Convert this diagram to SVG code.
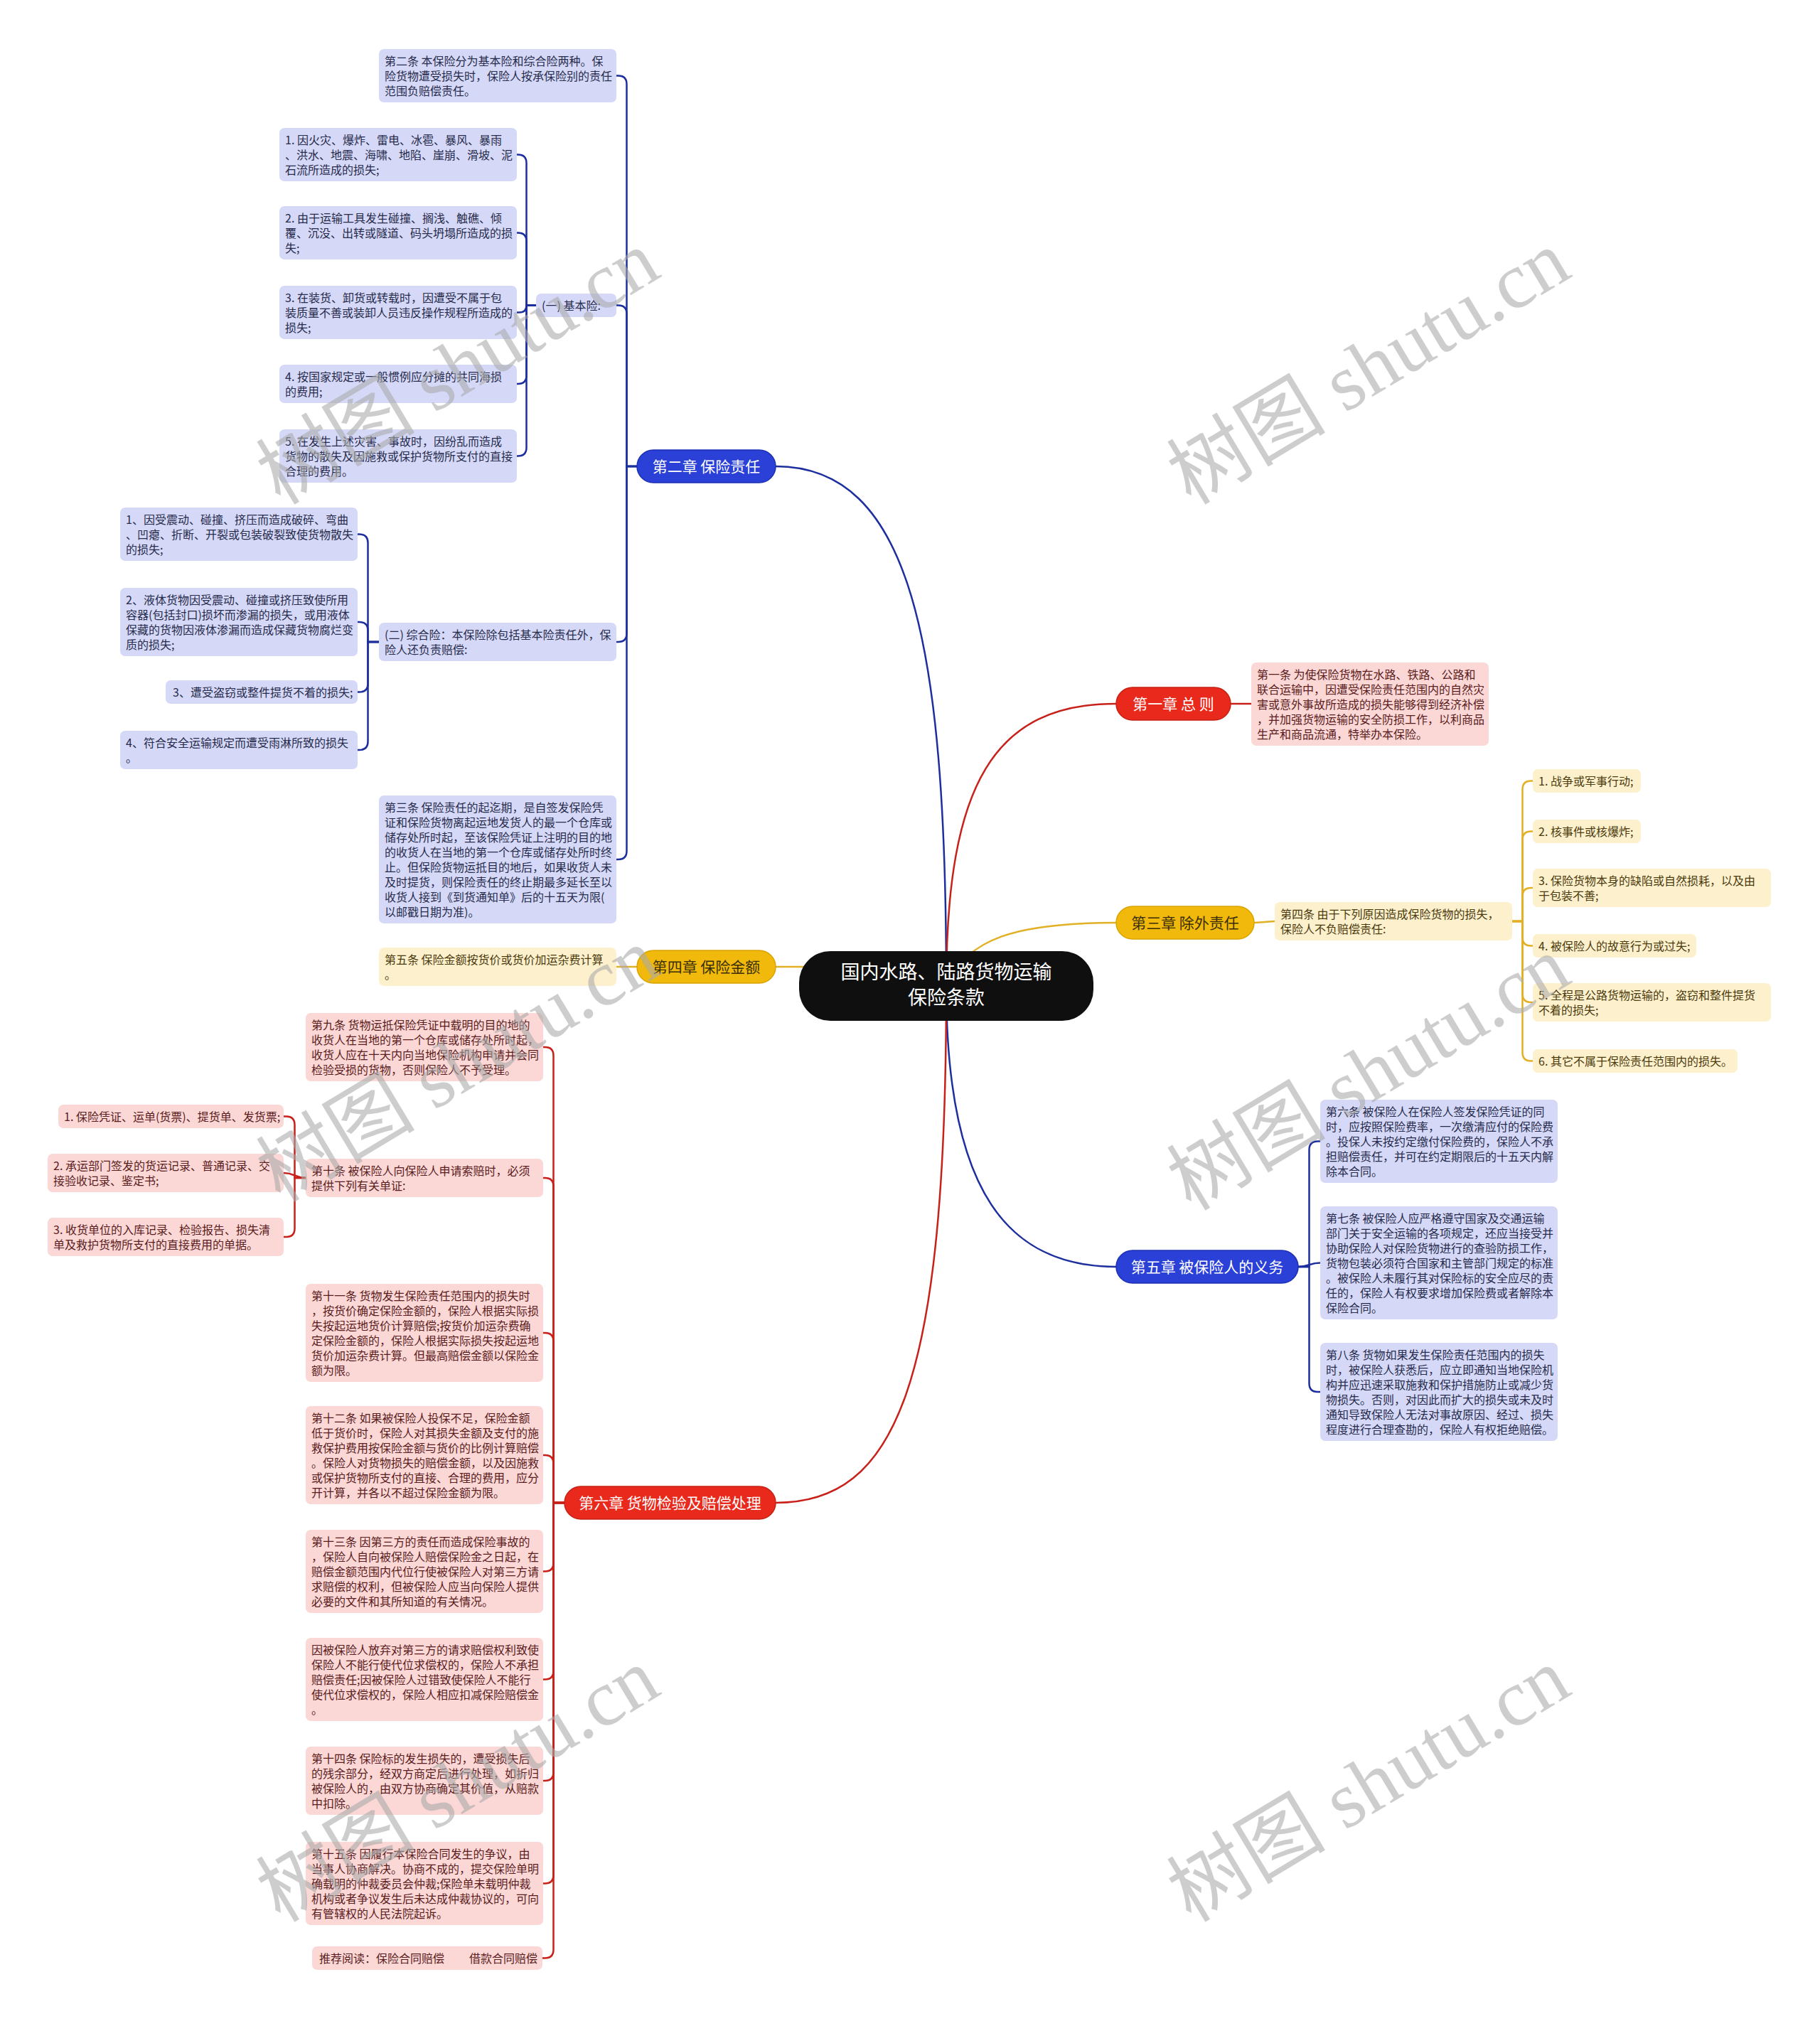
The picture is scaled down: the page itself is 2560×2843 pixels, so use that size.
<svg xmlns="http://www.w3.org/2000/svg" width="2560" height="2843" viewBox="0 0 2560 2843">
<style>
text{font-family:'Noto Sans CJK SC','Noto Sans',sans-serif;}
.t{font-size:16px;}
.lb rect{fill:#d5d9f7;} .lb text{fill:#272b4c;}
.lr rect{fill:#fbd7d6;} .lr text{fill:#5a1c1c;}
.ly rect{fill:#fdf0cd;} .ly text{fill:#4a3a0c;}
.ch text{font-size:21px;text-anchor:middle;}
.cb rect{fill:#2a40d6;stroke:#1d30b3;stroke-width:1.5;} .cb text{fill:#fff;}
.cr rect{fill:#e8291c;stroke:#c81f14;stroke-width:1.5;} .cr text{fill:#fff;}
.cy rect{fill:#f1b90c;stroke:#d9a400;stroke-width:1.5;} .cy text{fill:#3a2e08;}
.k path{fill:none;stroke-width:2.5;}
.kb{stroke:#1d2f9f;} .kr{stroke:#c7211a;} .ky{stroke:#e2b025;}
.wm{font-family:'Liberation Serif','Noto Sans CJK SC',serif;font-size:112px;fill:#a8a8a8;fill-opacity:0.58;text-anchor:middle;}
</style>
<rect width="2560" height="2843" fill="#ffffff"/>
<g id="connectors" class="k">
<path class="kb" d="M1331 1387 C1331 900 1280 656 1091 656"/>
<path class="kb" d="M1331 1387 C1331 1680 1420 1782 1570 1782"/>
<path class="kr" d="M1331 1387 C1331 1100 1400 990 1570 990"/>
<path class="kr" d="M1331 1387 C1331 1950 1260 2114 1091 2114"/>
<path class="ky" d="M1331 1387 C1360 1320 1430 1298 1570 1298"/>
<path class="ky" d="M1150 1360 L1091 1360"/>
<path class="kb" d="M896 656 H881.5 V118.5 Q881.5 106.5 869.5 106.5 H867"/>
<path class="kb" d="M896 656 H881.5 V441.5 Q881.5 429.5 869.5 429.5 H867"/>
<path class="kb" d="M896 656 H881.5 V891 Q881.5 903 869.5 903 H867"/>
<path class="kb" d="M896 656 H881.5 V1197 Q881.5 1209 869.5 1209 H867"/>
<path class="kb" d="M754 429.5 H740.5 V229.5 Q740.5 217.5 728.5 217.5 H727"/>
<path class="kb" d="M754 429.5 H740.5 V339.5 Q740.5 327.5 728.5 327.5 H727"/>
<path class="kb" d="M754 429.5 H740.5 Q740.5 439.5 730.5 439.5 H727"/>
<path class="kb" d="M754 429.5 H740.5 V528 Q740.5 540 728.5 540 H727"/>
<path class="kb" d="M754 429.5 H740.5 V629.5 Q740.5 641.5 728.5 641.5 H727"/>
<path class="kb" d="M533 903 H517.5 V763.5 Q517.5 751.5 505.5 751.5 H503"/>
<path class="kb" d="M533 903 H517.5 V887 Q517.5 875 505.5 875 H503"/>
<path class="kb" d="M533 903 H517.5 V961.5 Q517.5 973.5 505.5 973.5 H503"/>
<path class="kb" d="M533 903 H517.5 V1043 Q517.5 1055 505.5 1055 H503"/>
<path class="ky" d="M896 1360 L867 1360"/>
<path class="kr" d="M1731 990 L1760 990"/>
<path class="ky" d="M1764 1298 L1793 1296"/>
<path class="ky" d="M2127 1296 H2141.5 V1110.5 Q2141.5 1098.5 2153.5 1098.5 H2156"/>
<path class="ky" d="M2127 1296 H2141.5 V1181.5 Q2141.5 1169.5 2153.5 1169.5 H2156"/>
<path class="ky" d="M2127 1296 H2141.5 V1261 Q2141.5 1249 2153.5 1249 H2156"/>
<path class="ky" d="M2127 1296 H2141.5 V1318.5 Q2141.5 1330.5 2153.5 1330.5 H2156"/>
<path class="ky" d="M2127 1296 H2141.5 V1398 Q2141.5 1410 2153.5 1410 H2156"/>
<path class="ky" d="M2127 1296 H2141.5 V1480.5 Q2141.5 1492.5 2153.5 1492.5 H2156"/>
<path class="kb" d="M1826 1782 H1841.5 V1617.5 Q1841.5 1605.5 1853.5 1605.5 H1857"/>
<path class="kb" d="M1826 1782 C1841.5 1782 1841.5 1776.5 1857 1776.5"/>
<path class="kb" d="M1826 1782 H1841.5 V1946 Q1841.5 1958 1853.5 1958 H1857"/>
<path class="kr" d="M794 2114 H778.5 V1485 Q778.5 1473 766.5 1473 H764"/>
<path class="kr" d="M794 2114 H778.5 V1669 Q778.5 1657 766.5 1657 H764"/>
<path class="kr" d="M794 2114 H778.5 V1887 Q778.5 1875 766.5 1875 H764"/>
<path class="kr" d="M794 2114 H778.5 V2059 Q778.5 2047 766.5 2047 H764"/>
<path class="kr" d="M794 2114 H778.5 V2198.5 Q778.5 2210.5 766.5 2210.5 H764"/>
<path class="kr" d="M794 2114 H778.5 V2350.5 Q778.5 2362.5 766.5 2362.5 H764"/>
<path class="kr" d="M794 2114 H778.5 V2493 Q778.5 2505 766.5 2505 H764"/>
<path class="kr" d="M794 2114 H778.5 V2637.5 Q778.5 2649.5 766.5 2649.5 H764"/>
<path class="kr" d="M794 2114 H778.5 V2742.5 Q778.5 2754.5 766.5 2754.5 H763"/>
<path class="kr" d="M430 1657 H414.5 V1582.5 Q414.5 1570.5 402.5 1570.5 H399"/>
<path class="kr" d="M430 1657 C414.5 1657 414.5 1650 399 1650"/>
<path class="kr" d="M430 1657 H414.5 V1728 Q414.5 1740 402.5 1740 H399"/>
</g>

<g id="root"><rect x="1124" y="1338" width="414" height="98" rx="44" fill="#0f0f0f"/>
<text x="1331" y="1377" font-size="27" fill="#fff" text-anchor="middle">国内水路、陆路货物运输</text>
<text x="1331" y="1413" font-size="27" fill="#fff" text-anchor="middle">保险条款</text></g>

<g id="ch1" class="ch cr"><rect x="1570" y="967" width="161" height="46" rx="23"/><text x="1650.5" y="997.5">第一章 总 则</text></g>
<g id="ch2" class="ch cb"><rect x="896" y="633" width="195" height="46" rx="23"/><text x="993.5" y="663.5">第二章 保险责任</text></g>
<g id="ch3" class="ch cy"><rect x="1570" y="1275" width="194" height="46" rx="23"/><text x="1667" y="1305.5">第三章 除外责任</text></g>
<g id="ch4" class="ch cy"><rect x="896" y="1337" width="195" height="46" rx="23"/><text x="993.5" y="1367.5">第四章 保险金额</text></g>
<g id="ch5" class="ch cb"><rect x="1570" y="1759" width="256" height="46" rx="23"/><text x="1698" y="1789.5">第五章 被保险人的义务</text></g>
<g id="ch6" class="ch cr"><rect x="794" y="2091" width="297" height="46" rx="23"/><text x="942.5" y="2121.5">第六章 货物检验及赔偿处理</text></g>

<g id="a1" class="lr"><rect x="1760" y="932" width="334" height="117" rx="7"/><text class="t"><tspan x="1768" y="955">第一条 为使保险货物在水路、铁路、公路和</tspan><tspan x="1768" y="976">联合运输中，因遭受保险责任范围内的自然灾</tspan><tspan x="1768" y="997">害或意外事故所造成的损失能够得到经济补偿</tspan><tspan x="1768" y="1018">，并加强货物运输的安全防损工作，以利商品</tspan><tspan x="1768" y="1039">生产和商品流通，特举办本保险。</tspan></text></g>

<g id="a2" class="lb"><rect x="533" y="69" width="334" height="75" rx="7"/><text class="t"><tspan x="541" y="92">第二条 本保险分为基本险和综合险两种。保</tspan><tspan x="541" y="113">险货物遭受损失时，保险人按承保险别的责任</tspan><tspan x="541" y="134">范围负赔偿责任。</tspan></text></g>
<g id="jb" class="lb"><rect x="754" y="413" width="113" height="33" rx="7"/><text class="t" x="762" y="436">(一) 基本险:</text></g>
<g id="b1" class="lb"><rect x="393" y="180" width="334" height="75" rx="7"/><text class="t"><tspan x="401" y="203">1. 因火灾、爆炸、雷电、冰雹、暴风、暴雨</tspan><tspan x="401" y="224">、洪水、地震、海啸、地陷、崖崩、滑坡、泥</tspan><tspan x="401" y="245">石流所造成的损失;</tspan></text></g>
<g id="b2" class="lb"><rect x="393" y="290" width="334" height="75" rx="7"/><text class="t"><tspan x="401" y="313">2. 由于运输工具发生碰撞、搁浅、触礁、倾</tspan><tspan x="401" y="334">覆、沉没、出转或隧道、码头坍塌所造成的损</tspan><tspan x="401" y="355">失;</tspan></text></g>
<g id="b3" class="lb"><rect x="393" y="402" width="334" height="75" rx="7"/><text class="t"><tspan x="401" y="425">3. 在装货、卸货或转载时，因遭受不属于包</tspan><tspan x="401" y="446">装质量不善或装卸人员违反操作规程所造成的</tspan><tspan x="401" y="467">损失;</tspan></text></g>
<g id="b4" class="lb"><rect x="393" y="513" width="334" height="54" rx="7"/><text class="t"><tspan x="401" y="536">4. 按国家规定或一般惯例应分摊的共同海损</tspan><tspan x="401" y="557">的费用;</tspan></text></g>
<g id="b5" class="lb"><rect x="393" y="604" width="334" height="75" rx="7"/><text class="t"><tspan x="401" y="627">5. 在发生上述灾害、事故时，因纷乱而造成</tspan><tspan x="401" y="648">货物的散失及因施救或保护货物所支付的直接</tspan><tspan x="401" y="669">合理的费用。</tspan></text></g>
<g id="zh" class="lb"><rect x="533" y="876" width="334" height="54" rx="7"/><text class="t"><tspan x="541" y="899">(二) 综合险：本保险除包括基本险责任外，保</tspan><tspan x="541" y="920">险人还负责赔偿:</tspan></text></g>
<g id="z1" class="lb"><rect x="169" y="714" width="334" height="75" rx="7"/><text class="t"><tspan x="177" y="737">1、因受震动、碰撞、挤压而造成破碎、弯曲</tspan><tspan x="177" y="758">、凹瘪、折断、开裂或包装破裂致使货物散失</tspan><tspan x="177" y="779">的损失;</tspan></text></g>
<g id="z2" class="lb"><rect x="169" y="827" width="334" height="96" rx="7"/><text class="t"><tspan x="177" y="850">2、液体货物因受震动、碰撞或挤压致使所用</tspan><tspan x="177" y="871">容器(包括封口)损坏而渗漏的损失，或用液体</tspan><tspan x="177" y="892">保藏的货物因液体渗漏而造成保藏货物腐烂变</tspan><tspan x="177" y="913">质的损失;</tspan></text></g>
<g id="z3" class="lb"><rect x="233" y="957" width="270" height="33" rx="7"/><text class="t" x="243" y="980">3、遭受盗窃或整件提货不着的损失;</text></g>
<g id="z4" class="lb"><rect x="169" y="1028" width="334" height="54" rx="7"/><text class="t"><tspan x="177" y="1051">4、符合安全运输规定而遭受雨淋所致的损失</tspan><tspan x="177" y="1072">。</tspan></text></g>
<g id="a3" class="lb"><rect x="533" y="1119" width="334" height="180" rx="7"/><text class="t"><tspan x="541" y="1142">第三条 保险责任的起迄期，是自签发保险凭</tspan><tspan x="541" y="1163">证和保险货物离起运地发货人的最一个仓库或</tspan><tspan x="541" y="1184">储存处所时起，至该保险凭证上注明的目的地</tspan><tspan x="541" y="1205">的收货人在当地的第一个仓库或储存处所时终</tspan><tspan x="541" y="1226">止。但保险货物运抵目的地后，如果收货人未</tspan><tspan x="541" y="1247">及时提货，则保险责任的终止期最多延长至以</tspan><tspan x="541" y="1268">收货人接到《到货通知单》后的十五天为限(</tspan><tspan x="541" y="1289">以邮戳日期为准)。</tspan></text></g>

<g id="a5" class="ly"><rect x="533" y="1333" width="334" height="54" rx="7"/><text class="t"><tspan x="541" y="1356">第五条 保险金额按货价或货价加运杂费计算</tspan><tspan x="541" y="1377">。</tspan></text></g>
<g id="a4" class="ly"><rect x="1793" y="1269" width="334" height="54" rx="7"/><text class="t"><tspan x="1801" y="1292">第四条 由于下列原因造成保险货物的损失，</tspan><tspan x="1801" y="1313">保险人不负赔偿责任:</tspan></text></g>
<g id="e1" class="ly"><rect x="2156" y="1082" width="152" height="33" rx="7"/><text class="t" x="2164" y="1105">1. 战争或军事行动;</text></g>
<g id="e2" class="ly"><rect x="2156" y="1153" width="152" height="33" rx="7"/><text class="t" x="2164" y="1176">2. 核事件或核爆炸;</text></g>
<g id="e3" class="ly"><rect x="2156" y="1222" width="335" height="54" rx="7"/><text class="t"><tspan x="2164" y="1245">3. 保险货物本身的缺陷或自然损耗，以及由</tspan><tspan x="2164" y="1266">于包装不善;</tspan></text></g>
<g id="e4" class="ly"><rect x="2156" y="1314" width="230" height="33" rx="7"/><text class="t" x="2164" y="1337">4. 被保险人的故意行为或过失;</text></g>
<g id="e5" class="ly"><rect x="2156" y="1383" width="335" height="54" rx="7"/><text class="t"><tspan x="2164" y="1406">5. 全程是公路货物运输的，盗窃和整件提货</tspan><tspan x="2164" y="1427">不着的损失;</tspan></text></g>
<g id="e6" class="ly"><rect x="2156" y="1476" width="288" height="33" rx="7"/><text class="t" x="2164" y="1499">6. 其它不属于保险责任范围内的损失。</text></g>

<g id="a6" class="lb"><rect x="1857" y="1547" width="334" height="117" rx="7"/><text class="t"><tspan x="1865" y="1570">第六条 被保险人在保险人签发保险凭证的同</tspan><tspan x="1865" y="1591">时，应按照保险费率，一次缴清应付的保险费</tspan><tspan x="1865" y="1612">。投保人未按约定缴付保险费的，保险人不承</tspan><tspan x="1865" y="1633">担赔偿责任，并可在约定期限后的十五天内解</tspan><tspan x="1865" y="1654">除本合同。</tspan></text></g>
<g id="a7" class="lb"><rect x="1857" y="1697" width="334" height="159" rx="7"/><text class="t"><tspan x="1865" y="1720">第七条 被保险人应严格遵守国家及交通运输</tspan><tspan x="1865" y="1741">部门关于安全运输的各项规定，还应当接受并</tspan><tspan x="1865" y="1762">协助保险人对保险货物进行的查验防损工作，</tspan><tspan x="1865" y="1783">货物包装必须符合国家和主管部门规定的标准</tspan><tspan x="1865" y="1804">。被保险人未履行其对保险标的安全应尽的责</tspan><tspan x="1865" y="1825">任的，保险人有权要求增加保险费或者解除本</tspan><tspan x="1865" y="1846">保险合同。</tspan></text></g>
<g id="a8" class="lb"><rect x="1857" y="1889" width="334" height="138" rx="7"/><text class="t"><tspan x="1865" y="1912">第八条 货物如果发生保险责任范围内的损失</tspan><tspan x="1865" y="1933">时，被保险人获悉后，应立即通知当地保险机</tspan><tspan x="1865" y="1954">构并应迅速采取施救和保护措施防止或减少货</tspan><tspan x="1865" y="1975">物损失。否则，对因此而扩大的损失或未及时</tspan><tspan x="1865" y="1996">通知导致保险人无法对事故原因、经过、损失</tspan><tspan x="1865" y="2017">程度进行合理查勘的，保险人有权拒绝赔偿。</tspan></text></g>

<g id="a9" class="lr"><rect x="430" y="1425" width="334" height="96" rx="7"/><text class="t"><tspan x="438" y="1448">第九条 货物运抵保险凭证中载明的目的地的</tspan><tspan x="438" y="1469">收货人在当地的第一个仓库或储存处所时起，</tspan><tspan x="438" y="1490">收货人应在十天内向当地保险机构申请并会同</tspan><tspan x="438" y="1511">检验受损的货物，否则保险人不予受理。</tspan></text></g>
<g id="a10" class="lr"><rect x="430" y="1630" width="334" height="54" rx="7"/><text class="t"><tspan x="438" y="1653">第十条 被保险人向保险人申请索赔时，必须</tspan><tspan x="438" y="1674">提供下列有关单证:</tspan></text></g>
<g id="t1" class="lr"><rect x="82" y="1554" width="317" height="33" rx="7"/><text class="t" x="90" y="1577">1. 保险凭证、运单(货票)、提货单、发货票;</text></g>
<g id="t2" class="lr"><rect x="67" y="1623" width="332" height="54" rx="7"/><text class="t"><tspan x="75" y="1646">2. 承运部门签发的货运记录、普通记录、交</tspan><tspan x="75" y="1667">接验收记录、鉴定书;</tspan></text></g>
<g id="t3" class="lr"><rect x="67" y="1713" width="332" height="54" rx="7"/><text class="t"><tspan x="75" y="1736">3. 收货单位的入库记录、检验报告、损失清</tspan><tspan x="75" y="1757">单及救护货物所支付的直接费用的单据。</tspan></text></g>
<g id="a11" class="lr"><rect x="430" y="1806" width="334" height="138" rx="7"/><text class="t"><tspan x="438" y="1829">第十一条 货物发生保险责任范围内的损失时</tspan><tspan x="438" y="1850">，按货价确定保险金额的，保险人根据实际损</tspan><tspan x="438" y="1871">失按起运地货价计算赔偿;按货价加运杂费确</tspan><tspan x="438" y="1892">定保险金额的，保险人根据实际损失按起运地</tspan><tspan x="438" y="1913">货价加运杂费计算。但最高赔偿金额以保险金</tspan><tspan x="438" y="1934">额为限。</tspan></text></g>
<g id="a12" class="lr"><rect x="430" y="1978" width="334" height="138" rx="7"/><text class="t"><tspan x="438" y="2001">第十二条 如果被保险人投保不足，保险金额</tspan><tspan x="438" y="2022">低于货价时，保险人对其损失金额及支付的施</tspan><tspan x="438" y="2043">救保护费用按保险金额与货价的比例计算赔偿</tspan><tspan x="438" y="2064">。保险人对货物损失的赔偿金额，以及因施救</tspan><tspan x="438" y="2085">或保护货物所支付的直接、合理的费用，应分</tspan><tspan x="438" y="2106">开计算，并各以不超过保险金额为限。</tspan></text></g>
<g id="a13" class="lr"><rect x="430" y="2152" width="334" height="117" rx="7"/><text class="t"><tspan x="438" y="2175">第十三条 因第三方的责任而造成保险事故的</tspan><tspan x="438" y="2196">，保险人自向被保险人赔偿保险金之日起，在</tspan><tspan x="438" y="2217">赔偿金额范围内代位行使被保险人对第三方请</tspan><tspan x="438" y="2238">求赔偿的权利，但被保险人应当向保险人提供</tspan><tspan x="438" y="2259">必要的文件和其所知道的有关情况。</tspan></text></g>
<g id="a13b" class="lr"><rect x="430" y="2304" width="334" height="117" rx="7"/><text class="t"><tspan x="438" y="2327">因被保险人放弃对第三方的请求赔偿权利致使</tspan><tspan x="438" y="2348">保险人不能行使代位求偿权的，保险人不承担</tspan><tspan x="438" y="2369">赔偿责任;因被保险人过错致使保险人不能行</tspan><tspan x="438" y="2390">使代位求偿权的，保险人相应扣减保险赔偿金</tspan><tspan x="438" y="2411">。</tspan></text></g>
<g id="a14" class="lr"><rect x="430" y="2457" width="334" height="96" rx="7"/><text class="t"><tspan x="438" y="2480">第十四条 保险标的发生损失的，遭受损失后</tspan><tspan x="438" y="2501">的残余部分，经双方商定后进行处理，如折归</tspan><tspan x="438" y="2522">被保险人的，由双方协商确定其价值，从赔款</tspan><tspan x="438" y="2543">中扣除。</tspan></text></g>
<g id="a15" class="lr"><rect x="430" y="2591" width="334" height="117" rx="7"/><text class="t"><tspan x="438" y="2614">第十五条 因履行本保险合同发生的争议，由</tspan><tspan x="438" y="2635">当事人协商解决。协商不成的，提交保险单明</tspan><tspan x="438" y="2656">确载明的仲裁委员会仲裁;保险单未载明仲裁</tspan><tspan x="438" y="2677">机构或者争议发生后未达成仲裁协议的，可向</tspan><tspan x="438" y="2698">有管辖权的人民法院起诉。</tspan></text></g>
<g id="rec" class="lr"><rect x="439" y="2738" width="324" height="33" rx="7"/><text class="t"><tspan x="449" y="2761">推荐阅读：保险合同赔偿</tspan><tspan x="660" y="2761">借款合同赔偿</tspan></text></g>

<g id="watermarks">
<text class="wm" transform="rotate(-31 644 517)" x="644" y="555">树图 shutu.cn</text>
<text class="wm" transform="rotate(-31 1925 517)" x="1925" y="555">树图 shutu.cn</text>
<text class="wm" transform="rotate(-31 644 1498)" x="644" y="1536">树图 shutu.cn</text>
<text class="wm" transform="rotate(-31 1925 1510)" x="1925" y="1548">树图 shutu.cn</text>
<text class="wm" transform="rotate(-31 644 2511)" x="644" y="2549">树图 shutu.cn</text>
<text class="wm" transform="rotate(-31 1925 2511)" x="1925" y="2549">树图 shutu.cn</text>
</g>
</svg>
